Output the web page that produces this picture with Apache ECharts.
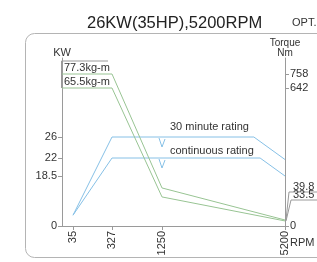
<!DOCTYPE html>
<html>
<head>
<meta charset="utf-8">
<script src="https://cdn.jsdelivr.net/npm/echarts@6/dist/echarts.min.js"></script>
<style>html,body{margin:0;padding:0;background:#fff}#c{width:317px;height:262px}</style>
</head>
<body>
<div id="c"></div>
<script>
// ---- data ----
const rpmTicks = [35, 327, 1250, 5200];
const kwTicks = [0, 18.5, 22, 26];
const nmTicks = [0, 642, 758];
const rpm30 = [35, 327, 4200, 5200];
const kw30 = [4, 26, 26, 21.7];
const rpmCont = [35, 327, 4400, 5200];
const kwCont = [4, 22, 22, 18.5];
const rpmTorque = [0, 327, 1250, 5200];
const torque30 = [758, 758, 186, 39.8];
const torqueCont = [642, 642, 145, 33.5];
const kgmLabels = ['77.3kg-m', '65.5kg-m'];
const endLabels = ['39.8', '33.5'];
const ratingLabels = ['30 minute rating', 'continuous rating'];

// ---- schematic (non-linear) scale definitions ----
const xScaleFrom = [0, 35, 327, 1250, 5200], xScaleTo = [0, 11, 50, 100, 223];
const kwScaleFrom = [0, 18.5, 22, 26, 40], kwScaleTo = [0, 50, 68, 89, 168];
const nmScaleFrom = [0, 39.8, 642, 758, 840], nmScaleTo = [0, 6, 138, 152, 168];
function interp(v, from, to) {
  for (let i = 0; i < from.length - 1; i++) {
    if (v <= from[i + 1] || i === from.length - 2) {
      return to[i] + (v - from[i]) / (from[i + 1] - from[i]) * (to[i + 1] - to[i]);
    }
  }
}
const fx = v => interp(v, xScaleFrom, xScaleTo);
const fkw = v => interp(v, kwScaleFrom, kwScaleTo);
const fnm = v => interp(v, nmScaleFrom, nmScaleTo);
function labelFor(ticks, f) {
  return val => {
    for (const t of ticks) if (Math.abs(f(t) - val) < 0.01) return String(t);
    return '';
  };
}
const txt = '#333';
const axisCol = '#9a9a9a';
const blue = '#86c0e6';
const green = '#98c493';
const font = 'Liberation Sans, Arial, sans-serif';

const chart = echarts.init(document.getElementById('c'), null, {renderer: 'canvas'});
const option = {
  animation: false,
  textStyle: {fontFamily: font},
  title: {text: '26KW(35HP),5200RPM', left: 82, top: 10,
    textStyle: {fontSize: 16.5, fontWeight: 'normal', color: '#222', fontFamily: font}},
  grid: {left: 62, right: 32, top: 58, bottom: 36},
  xAxis: {
    type: 'value', min: 0, max: fx(5200),
    splitLine: {show: false},
    axisLine: {lineStyle: {color: axisCol}},
    axisTick: {customValues: rpmTicks.map(fx), length: 4, lineStyle: {color: axisCol}},
    axisLabel: {customValues: rpmTicks.map(fx), formatter: labelFor(rpmTicks, fx),
      rotate: 90, color: txt, fontSize: 11, margin: 5}
  },
  yAxis: [{
    type: 'value', min: 0, max: 168, position: 'left',
    name: 'KW', nameLocation: 'end', nameGap: 0,
    nameTextStyle: {color: txt, fontSize: 11, align: 'center'},
    splitLine: {show: false},
    axisLine: {show: true, lineStyle: {color: axisCol}},
    axisTick: {show: true, customValues: kwTicks.map(fkw), length: 4, lineStyle: {color: axisCol}},
    axisLabel: {customValues: kwTicks.map(fkw), formatter: labelFor(kwTicks, fkw),
      color: txt, fontSize: 11, margin: 5}
  }, {
    type: 'value', min: 0, max: 168, position: 'right',
    name: 'Torque\nNm', nameLocation: 'end', nameGap: 0,
    nameTextStyle: {color: txt, fontSize: 10, align: 'center', lineHeight: 10},
    splitLine: {show: false},
    axisLine: {show: true, lineStyle: {color: axisCol}},
    axisTick: {show: true, customValues: nmTicks.map(fnm), length: 4, lineStyle: {color: axisCol}},
    axisLabel: {customValues: nmTicks.map(fnm), formatter: labelFor(nmTicks, fnm),
      color: txt, fontSize: 11, margin: 5}
  }],
  series: [
    {type: 'line', name: ratingLabels[0], yAxisIndex: 0, symbol: 'none',
      lineStyle: {color: blue, width: 1},
      data: rpm30.map((r, i) => [fx(r), fkw(kw30[i])])},
    {type: 'line', name: ratingLabels[1], yAxisIndex: 0, symbol: 'none',
      lineStyle: {color: blue, width: 1},
      data: rpmCont.map((r, i) => [fx(r), fkw(kwCont[i])])},
    {type: 'line', name: kgmLabels[0], yAxisIndex: 1, symbol: 'none',
      lineStyle: {color: green, width: 1},
      data: rpmTorque.map((r, i) => [fx(r), fnm(torque30[i])])},
    {type: 'line', name: kgmLabels[1], yAxisIndex: 1, symbol: 'none',
      lineStyle: {color: green, width: 1},
      data: rpmTorque.map((r, i) => [fx(r), fnm(torqueCont[i])])}
  ]
};
chart.setOption(option);

const pxT = (r, t) => chart.convertToPixel({xAxisIndex: 0, yAxisIndex: 1}, [fx(r), fnm(t)]);
const pxK = (r, k) => chart.convertToPixel({xAxisIndex: 0, yAxisIndex: 0}, [fx(r), fkw(k)]);
const p1 = pxT(rpmTorque[0], torque30[0]);
const p2 = pxT(rpmTorque[0], torqueCont[0]);
const q30 = pxK(1250, kw30[1]);
const qC = pxK(1250, kwCont[1]);
const pe = pxT(rpmTorque[3], torque30[3]);
const grayLine = {stroke: '#999', lineWidth: 1, fill: null};
const blueLine = {stroke: blue, lineWidth: 1, fill: null};
const T = (x, y, text, extra) => ({type: 'text', x, y,
  style: Object.assign({text, fill: txt, fontSize: 11, fontFamily: font, verticalAlign: 'middle'}, extra || {})});
chart.setOption({
  graphic: [
    {type: 'rect', shape: {x: 25.5, y: 33.5, width: 320, height: 224, r: 9},
      style: {stroke: '#b4b4b4', lineWidth: 1, fill: null}, silent: true},
    T(292, 23, 'OPT.', {fontSize: 11}),
    // kg-m box
    {type: 'polyline', shape: {points: [[p1[0] + 46, p1[1] - 13], [p1[0] - 0.5, p1[1] - 13], [p1[0] - 0.5, p2[1]]]}, style: grayLine},
    T(p1[0] + 2, p1[1] - 6.5, kgmLabels[0]),
    T(p1[0] + 2, (p1[1] + p2[1]) / 2 + 0.5, kgmLabels[1]),
    // rating labels
    T(q30[0] + 8, q30[1] - 10, ratingLabels[0]),
    T(qC[0] + 8, qC[1] - 7, ratingLabels[1]),
    {type: 'polyline', shape: {points: [[q30[0] - 3, q30[1] + 1], [q30[0], q30[1] + 10], [q30[0] + 3, q30[1] + 2]]}, style: blueLine},
    {type: 'polyline', shape: {points: [[qC[0] - 3, qC[1] + 1], [qC[0], qC[1] + 10], [qC[0] + 3, qC[1] + 2]]}, style: blueLine},
    // end torque labels
    {type: 'polyline', shape: {points: [[pe[0] + 1, pe[1]], [pe[0] + 4, pe[1] - 28], [330, pe[1] - 28]]}, style: grayLine},
    {type: 'polyline', shape: {points: [[pe[0] + 1, pe[1] + 1], [pe[0] + 6, pe[1] - 20], [330, pe[1] - 20]]}, style: grayLine},
    T(pe[0] + 8, pe[1] - 33, endLabels[0]),
    T(pe[0] + 8, pe[1] - 25, endLabels[1]),
    T(pe[0] + 5, pe[1] + 23, 'RPM')
  ]
});
</script>
</body>
</html>
